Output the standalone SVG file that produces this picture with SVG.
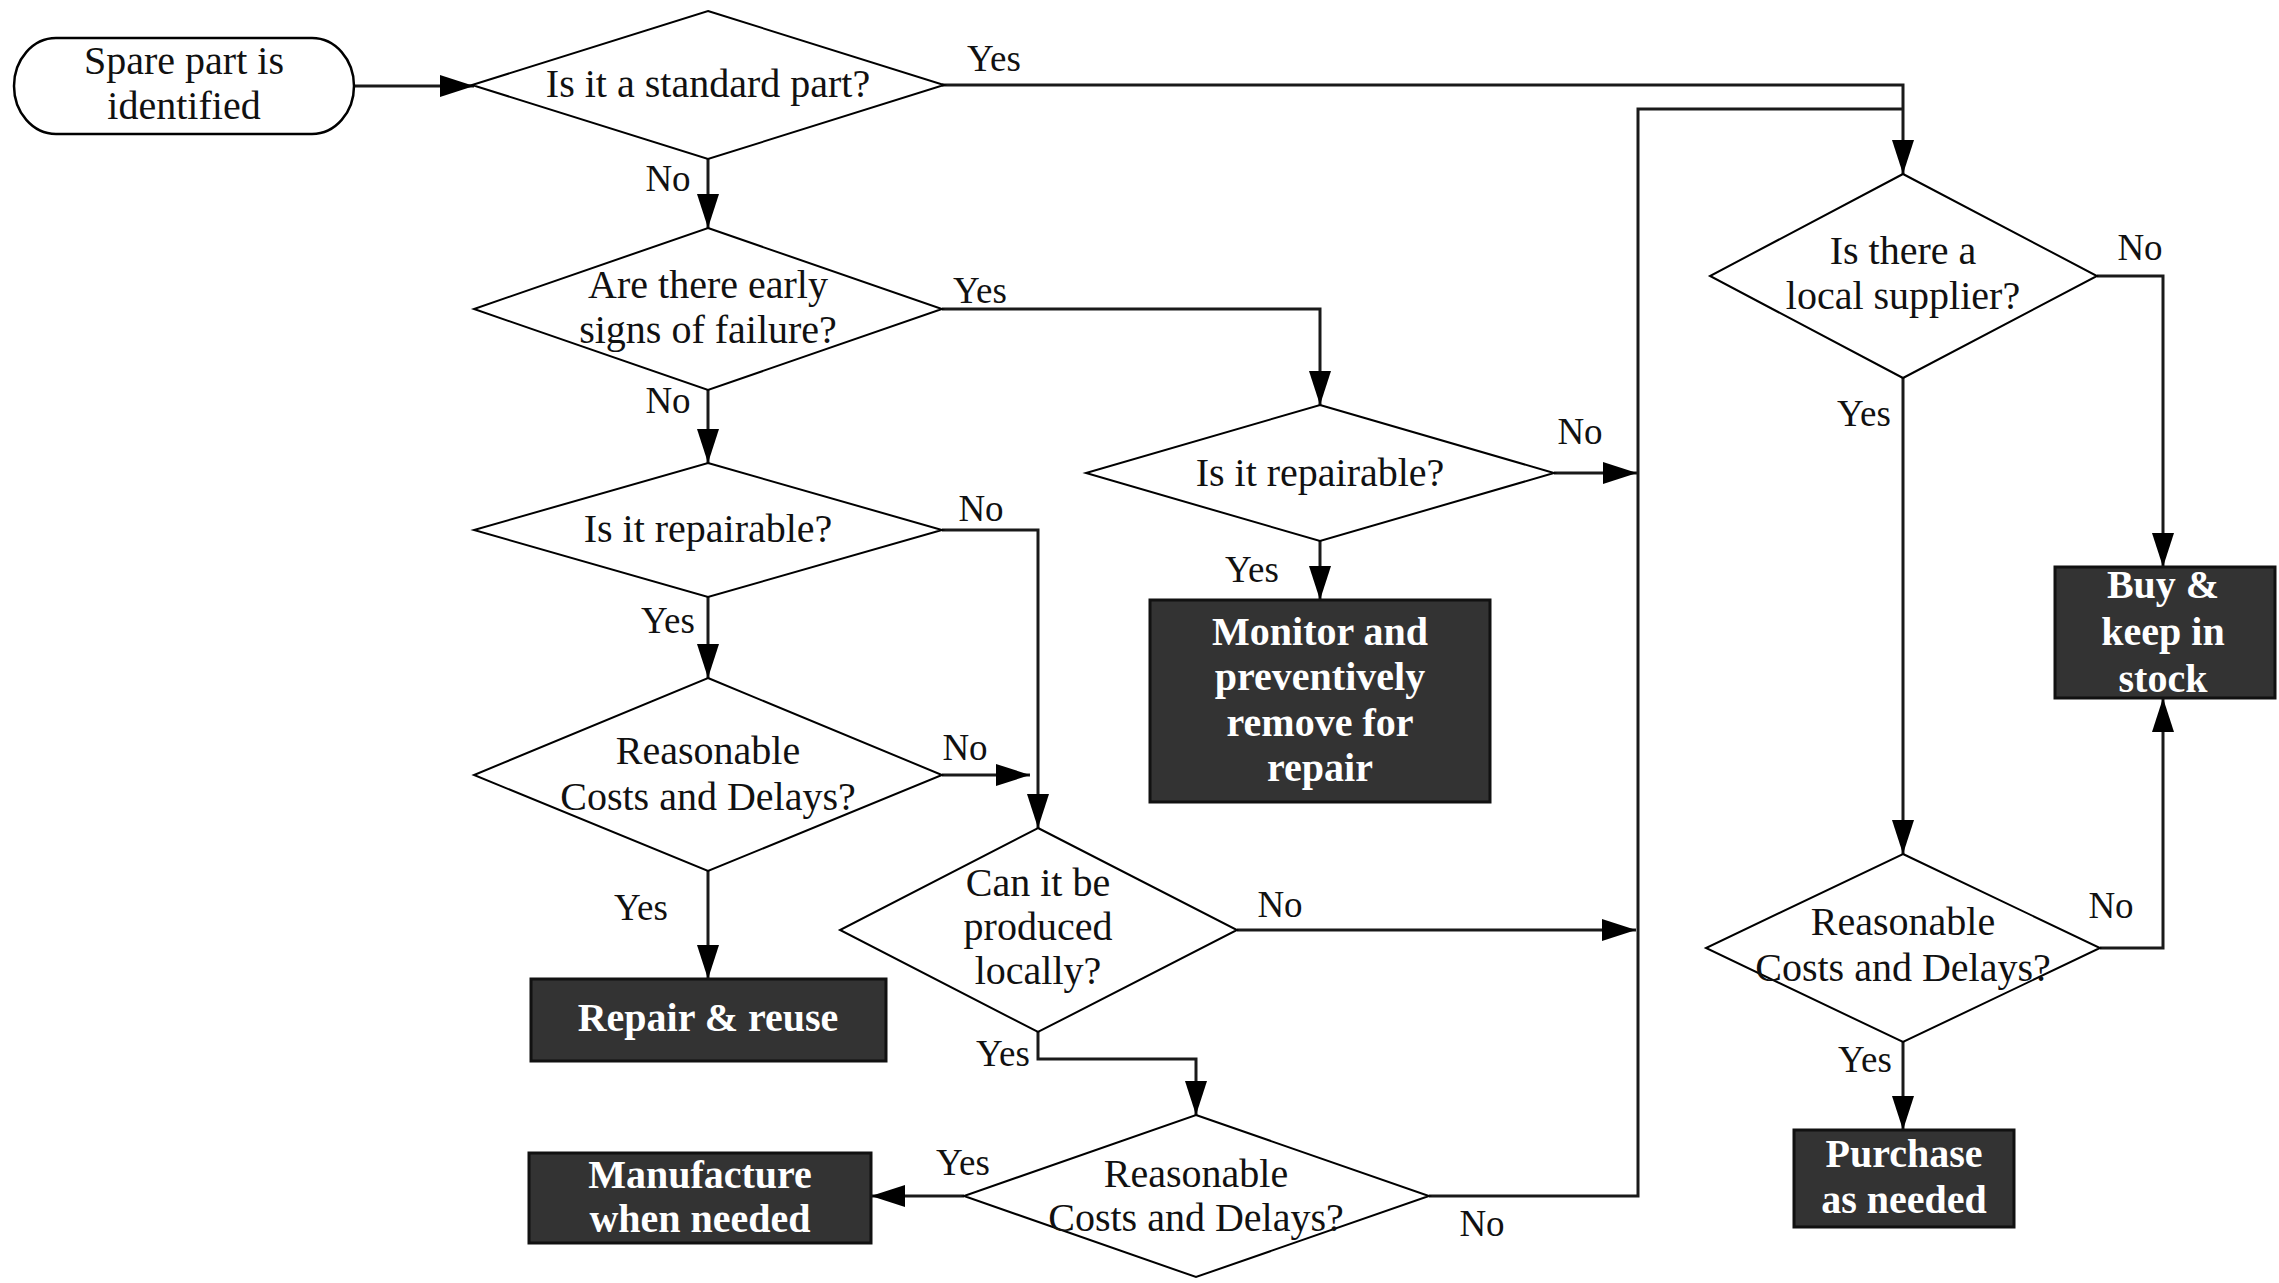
<svg xmlns="http://www.w3.org/2000/svg" width="2279" height="1283" viewBox="0 0 2279 1283">
  <defs>
    <marker id="arrow" markerUnits="userSpaceOnUse" markerWidth="34" markerHeight="22" refX="34" refY="11" orient="auto">
      <path d="M0,0 L34,11 L0,22 Z" fill="#000"/>
    </marker>
    <style>
      text { font-family: "Liberation Serif", "Times New Roman", serif; text-anchor: middle; }
      .q { font-size: 40px; fill: #111; }
      .lbl { font-size: 37px; fill: #111; }
      .act { font-size: 40px; font-weight: bold; fill: #fff; }
      .dia { fill: #fff; stroke: #000; stroke-width: 2; }
      .box { fill: #333; stroke: #111; stroke-width: 3; }
      .term { fill: #fff; stroke: #000; stroke-width: 2.5; }
      .conn { fill: none; stroke: #1a1a1a; stroke-width: 3; }
    </style>
  </defs>
  <rect width="2279" height="1283" fill="#fff"/>

  <!-- connectors -->
  <g id="connectors" class="conn">
    <path d="M352,86 H474" marker-end="url(#arrow)"/>
    <path d="M708,158 V228" marker-end="url(#arrow)"/>
    <path d="M708,390 V463" marker-end="url(#arrow)"/>
    <path d="M708,597 V678" marker-end="url(#arrow)"/>
    <path d="M708,871 V979" marker-end="url(#arrow)"/>
    <path d="M942,85 H1903 V174" marker-end="url(#arrow)"/>
    <path d="M942,309 H1320 V405" marker-end="url(#arrow)"/>
    <path d="M1320,541 V600" marker-end="url(#arrow)"/>
    <path d="M1554,473 H1637" marker-end="url(#arrow)"/>
    <path d="M942,530 H1038 V828" marker-end="url(#arrow)"/>
    <path d="M942,775 H1030" marker-end="url(#arrow)"/>
    <path d="M1237,930 H1636" marker-end="url(#arrow)"/>
    <path d="M1038,1032 V1059 H1196 V1115" marker-end="url(#arrow)"/>
    <path d="M964,1196 H871" marker-end="url(#arrow)"/>
    <path d="M1429,1196 H1638 V109 H1903"/>
    <path d="M1903,378 V854" marker-end="url(#arrow)"/>
    <path d="M2097,276 H2163 V567" marker-end="url(#arrow)"/>
    <path d="M2100,948 H2163 V698" marker-end="url(#arrow)"/>
    <path d="M1903,1042 V1130" marker-end="url(#arrow)"/>
  </g>

  <!-- connector labels -->
  <g id="labels" class="lbl">
    <text x="994" y="71">Yes</text>
    <text x="668" y="191">No</text>
    <text x="980" y="303">Yes</text>
    <text x="668" y="413">No</text>
    <text x="981" y="521">No</text>
    <text x="668" y="633">Yes</text>
    <text x="965" y="760">No</text>
    <text x="641" y="920">Yes</text>
    <text x="1580" y="444">No</text>
    <text x="1252" y="582">Yes</text>
    <text x="1280" y="917">No</text>
    <text x="1003" y="1066">Yes</text>
    <text x="963" y="1175">Yes</text>
    <text x="1482" y="1236">No</text>
    <text x="2140" y="260">No</text>
    <text x="1864" y="426">Yes</text>
    <text x="2111" y="918">No</text>
    <text x="1865" y="1072">Yes</text>
  </g>

  <!-- start -->
  <g id="start">
    <rect class="term" x="14" y="38" width="340" height="96" rx="42" ry="48"/>
    <text class="q" x="184" y="74">Spare part is</text>
    <text class="q" x="184" y="119">identified</text>
  </g>

  <!-- decisions -->
  <g id="standard-part">
    <polygon class="dia" points="708,11 944,85 708,159 472,85"/>
    <text class="q" x="708" y="97">Is it a standard part?</text>
  </g>
  <g id="early-signs">
    <polygon class="dia" points="708,228 942,309 708,390 474,309"/>
    <text class="q" x="708" y="298">Are there early</text>
    <text class="q" x="708" y="343">signs of failure?</text>
  </g>
  <g id="repairable-left">
    <polygon class="dia" points="708,463 942,530 708,597 474,530"/>
    <text class="q" x="708" y="542">Is it repairable?</text>
  </g>
  <g id="costs-repair">
    <polygon class="dia" points="708,678 942,775 708,871 474,775"/>
    <text class="q" x="708" y="764">Reasonable</text>
    <text class="q" x="708" y="810">Costs and Delays?</text>
  </g>
  <g id="repairable-right">
    <polygon class="dia" points="1320,405 1554,473 1320,541 1086,473"/>
    <text class="q" x="1320" y="486">Is it repairable?</text>
  </g>
  <g id="produced-locally">
    <polygon class="dia" points="1038,828 1237,930 1038,1032 840,930"/>
    <text class="q" x="1038" y="896">Can it be</text>
    <text class="q" x="1038" y="940">produced</text>
    <text class="q" x="1038" y="984">locally?</text>
  </g>
  <g id="costs-manufacture">
    <polygon class="dia" points="1196,1115 1429,1196 1196,1277 964,1196"/>
    <text class="q" x="1196" y="1187">Reasonable</text>
    <text class="q" x="1196" y="1231">Costs and Delays?</text>
  </g>
  <g id="local-supplier">
    <polygon class="dia" points="1903,174 2097,276 1903,378 1710,276"/>
    <text class="q" x="1903" y="264">Is there a</text>
    <text class="q" x="1903" y="309">local supplier?</text>
  </g>
  <g id="costs-purchase">
    <polygon class="dia" points="1903,854 2100,948 1903,1042 1706,948"/>
    <text class="q" x="1903" y="935">Reasonable</text>
    <text class="q" x="1903" y="981">Costs and Delays?</text>
  </g>

  <!-- outcomes -->
  <g id="repair-reuse">
    <rect class="box" x="531" y="979" width="355" height="82"/>
    <text class="act" x="708" y="1031">Repair &amp; reuse</text>
  </g>
  <g id="monitor">
    <rect class="box" x="1150" y="600" width="340" height="202"/>
    <text class="act" x="1320" y="645">Monitor and</text>
    <text class="act" x="1320" y="690">preventively</text>
    <text class="act" x="1320" y="736">remove for</text>
    <text class="act" x="1320" y="781">repair</text>
  </g>
  <g id="manufacture">
    <rect class="box" x="529" y="1153" width="342" height="90"/>
    <text class="act" x="700" y="1188">Manufacture</text>
    <text class="act" x="700" y="1232">when needed</text>
  </g>
  <g id="buy-stock">
    <rect class="box" x="2055" y="567" width="220" height="131"/>
    <text class="act" x="2163" y="598">Buy &amp;</text>
    <text class="act" x="2163" y="645">keep in</text>
    <text class="act" x="2163" y="692">stock</text>
  </g>
  <g id="purchase">
    <rect class="box" x="1794" y="1130" width="220" height="97"/>
    <text class="act" x="1904" y="1167">Purchase</text>
    <text class="act" x="1904" y="1213">as needed</text>
  </g>
</svg>
